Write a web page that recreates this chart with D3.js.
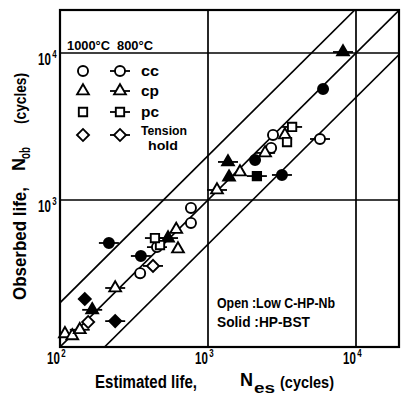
<!DOCTYPE html>
<html><head><meta charset="utf-8">
<script src="https://cdn.jsdelivr.net/npm/d3@7"></script>
<style>body{margin:0;background:#fff}svg{display:block}text{font-family:"Liberation Sans",Arial,sans-serif;fill:#000;font-weight:bold}</style>
</head><body>
<svg id="c" width="405" height="397"></svg>
<script>
// ---- data: [estimated life, observed life] (cycles) ----
const cc1000Open   = [[2750,2770],[2670,2260],[767,883],[767,698],[348,318]];
const cc1000Solid  = [[5990,5690],[2080,1870]];
const cc800Open    = [[5710,2600],[452,478]];
const cc800Solid   = [[3160,1480],[214,510],[352,416]];
const cp1000Open   = [[3310,2770],[1645,1550],[610,630],[627,464],[108,123],[121,119]];
const cp1000Solid  = [[1387,1432]];
const cp800Open    = [[2430,2090],[1150,1170],[236,252],[136,131]];
const cp800Solid   = [[8170,10160],[1365,1815],[165,179],[537,551]];
const pc1000Open   = [[3420,2480],[474,494]];
const pc800Open    = [[3700,3140],[438,551]];
const pc800Solid   = [[2140,1455]];
const th1000Open   = [[155,148]];
const th1000Solid  = [[147,212]];
const th800Open    = [[425,356]];
const th800Solid   = [[236,150]];
const bandFactors  = [1, 2, 0.5];
const gridValues   = [1000, 10000];
const xTickExps    = ["2","3","4"];
const yTickExps    = ["3","4"];
const legendRows   = [["circle","cc"],["triangle","cp"],["square","pc"],["diamond","Tension","hold"]];

const series = [
  [cc1000Open,"circle",false,false],[cc1000Solid,"circle",true,false],
  [cc800Open,"circle",false,true],[cc800Solid,"circle",true,true],
  [cp1000Open,"triangle",false,false],[cp1000Solid,"triangle",true,false],
  [cp800Open,"triangle",false,true],[cp800Solid,"triangle",true,true],
  [pc1000Open,"square",false,false],[pc800Open,"square",false,true],[pc800Solid,"square",true,true],
  [th1000Open,"diamond",false,false],[th1000Solid,"diamond",true,false],
  [th800Open,"diamond",false,true],[th800Solid,"diamond",true,true]
];

const L=60,R=399,T=10,B=347;
const x = d3.scaleLog().domain([100, Math.pow(10,2+339/148)]).range([L,R]);
const y = d3.scaleLog().domain([100, Math.pow(10,2+337/147)]).range([B,T]);
const svg = d3.select("#c");

svg.append("clipPath").attr("id","clip").append("rect").attr("x",L).attr("y",T).attr("width",R-L).attr("height",B-T);

// grid
const g = svg.append("g").attr("stroke","#000").attr("stroke-width",1.7);
gridValues.forEach(v=>{
  g.append("line").attr("x1",x(v)).attr("x2",x(v)).attr("y1",T).attr("y2",B);
  g.append("line").attr("y1",y(v)).attr("y2",y(v)).attr("x1",L).attr("x2",R);
});
// band lines
const lg = svg.append("g").attr("clip-path","url(#clip)").attr("stroke","#000").attr("stroke-width",1.6);
bandFactors.forEach(f=>{
  lg.append("line").attr("x1",x(50)).attr("y1",y(50*f)).attr("x2",x(40000)).attr("y2",y(40000*f));
});
svg.append("rect").attr("x",L).attr("y",T).attr("width",R-L).attr("height",B-T)
  .attr("fill","none").attr("stroke","#000").attr("stroke-width",2.2);

const symType = {circle:d3.symbolCircle, triangle:d3.symbolTriangle, square:d3.symbolSquare, diamond:d3.symbolSquare};
const symSize = {circle:80, triangle:60, square:70, diamond:72};
function marker(parent, cx, cy, shape, solid, tick){
  const m = parent.append("g").attr("transform",`translate(${cx},${cy})`);
  if(tick) m.append("line").attr("x1",-10).attr("x2",10).attr("stroke","#000").attr("stroke-width",1.8);
  m.append("path").attr("d",d3.symbol().type(symType[shape]).size(symSize[shape])())
    .attr("transform", shape==="diamond"?"rotate(45)":null)
    .attr("fill", solid?"#000":"#fff").attr("stroke","#000").attr("stroke-width",1.9);
}
const pts = svg.append("g");
series.forEach(([data,shape,solid,tick])=>{
  data.forEach(d=>marker(pts, x(d[0]), y(d[1]), shape, solid, tick));
});

// legend
svg.append("text").attr("x",67).attr("y",50).attr("font-size",13).attr("textLength",43).attr("lengthAdjust","spacingAndGlyphs").text("1000°C");
svg.append("text").attr("x",117).attr("y",50).attr("font-size",13).attr("textLength",36).attr("lengthAdjust","spacingAndGlyphs").text("800°C");
const rowY=[71,91,112,135];
legendRows.forEach((r,i)=>{
  marker(svg,83,rowY[i],r[0],false,false);
  marker(svg,120,rowY[i],r[0],false,true);
  if(r.length===2){
    svg.append("text").attr("x",141).attr("y",rowY[i]+5).attr("font-size",15).attr("textLength",18).attr("lengthAdjust","spacingAndGlyphs").text(r[1]);
  } else {
    svg.append("text").attr("x",141).attr("y",rowY[i]).attr("font-size",13).attr("textLength",46).attr("lengthAdjust","spacingAndGlyphs").text(r[1]);
    svg.append("text").attr("x",148).attr("y",rowY[i]+15).attr("font-size",13).attr("textLength",30).attr("lengthAdjust","spacingAndGlyphs").text(r[2]);
  }
});
svg.append("text").attr("x",217).attr("y",308).attr("font-size",14).attr("textLength",118).attr("lengthAdjust","spacingAndGlyphs").text("Open :Low C-HP-Nb");
svg.append("text").attr("x",217).attr("y",327).attr("font-size",14).attr("textLength",93).attr("lengthAdjust","spacingAndGlyphs").text("Solid :HP-BST");

// tick labels: "10" with superscript exponent in one text element
function powLabel(tx, ty, exp){
  const t = svg.append("text").attr("transform",`translate(${tx},${ty}) scale(0.72,1)`).attr("font-size",16);
  t.append("tspan").text("10");
  t.append("tspan").attr("dx",2).attr("dy",-7).attr("font-size",11).text(exp);
}
[100,1000,10000].forEach((v,i)=>powLabel(x(v)-13, 364, xTickExps[i]));
[1000,10000].forEach((v,i)=>powLabel(38, y(v)+12, yTickExps[i]));

// axis titles
svg.append("text").attr("x",95).attr("y",388).attr("font-size",18).attr("textLength",102).attr("lengthAdjust","spacingAndGlyphs").text("Estimated life,");
svg.append("text").attr("x",240).attr("y",386).attr("font-size",18).attr("textLength",13).attr("lengthAdjust","spacingAndGlyphs").text("N");
svg.append("text").attr("x",254).attr("y",393).attr("font-size",14).attr("textLength",21).attr("lengthAdjust","spacingAndGlyphs").text("es");
svg.append("text").attr("x",280).attr("y",388).attr("font-size",17).attr("textLength",54).attr("lengthAdjust","spacingAndGlyphs").text("(cycles)");

function vtext(px,py,size,len,str){
  svg.append("text").attr("transform",`translate(${px},${py}) rotate(-90)`).attr("font-size",size)
    .attr("textLength",len).attr("lengthAdjust","spacingAndGlyphs").text(str);
}
vtext(26,300,18,113,"Obserbed life,");
vtext(25,171,18,13,"N");
vtext(30,159,14,12,"ob");
vtext(26,124,17,51,"(cycles)");
</script>
</body></html>
